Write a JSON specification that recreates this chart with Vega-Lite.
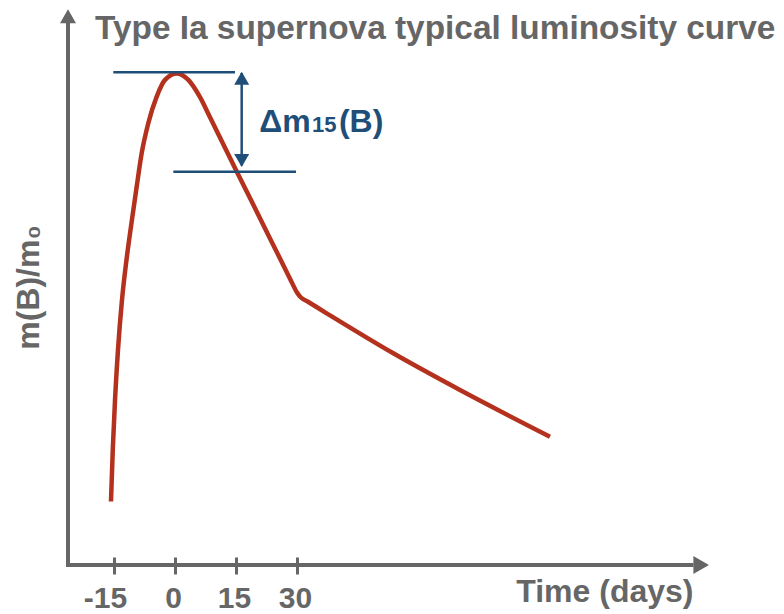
{
  "$schema": "https://vega.github.io/schema/vega-lite/v6.json",
  "width": 700,
  "height": 565,
  "autosize": {"type": "none"},
  "padding": {"left": 68, "top": 0, "right": 16, "bottom": 49},
  "background": "white",
  "config": {"view": {"stroke": null}, "font": "Liberation Sans"},
  "title": {
    "text": "Type Ia supernova typical luminosity curve",
    "orient": "top",
    "anchor": "start",
    "frame": "group",
    "offset": -72,
    "baseline": "alphabetic",
    "dx": 27,
    "font": "Liberation Sans",
    "fontSize": 33.4,
    "fontWeight": "bold",
    "color": "#666666"
  },
  "datasets": {
    "curve": [
      {"day": -15.74, "lum": 0.129},
      {"day": -15.3, "lum": 0.234},
      {"day": -14.75, "lum": 0.335},
      {"day": -14.02, "lum": 0.437},
      {"day": -13.03, "lum": 0.539},
      {"day": -11.93, "lum": 0.62},
      {"day": -10.82, "lum": 0.688},
      {"day": -9.42, "lum": 0.769},
      {"day": -8.19, "lum": 0.837},
      {"day": -6.57, "lum": 0.898},
      {"day": -4.5, "lum": 0.952},
      {"day": -2.46, "lum": 0.986},
      {"day": 0.42, "lum": 0.999},
      {"day": 3.27, "lum": 0.986},
      {"day": 6.15, "lum": 0.951},
      {"day": 8.61, "lum": 0.91},
      {"day": 15.17, "lum": 0.8},
      {"day": 20.9, "lum": 0.705},
      {"day": 28.28, "lum": 0.582},
      {"day": 30.0, "lum": 0.554},
      {"day": 30.98, "lum": 0.5437},
      {"day": 32.7, "lum": 0.535},
      {"day": 37.3, "lum": 0.5116},
      {"day": 53.68, "lum": 0.4303},
      {"day": 70.08, "lum": 0.3557},
      {"day": 92.21, "lum": 0.2608}
    ],
    "axisLines": [
      {"day": -26.8, "day2": 127.5, "lum": 0, "lum2": 0},
      {"day": -26.31, "day2": -26.31, "lum": -0.004, "lum2": 1.105}
    ],
    "xArrow": [{"day": 131.3, "lum": 0}],
    "yArrow": [{"day": -26.31, "lum": 1.1295}],
    "levels": [
      {"day": -15.17, "day2": 14.75, "lum": 1.0014},
      {"day": -0.41, "day2": 29.75, "lum": 0.7994}
    ],
    "span": [{"day": 16.4, "lum": 1.0, "lum2": 0.812}],
    "spanTop": [{"day": 16.4, "lum": 1.0026}],
    "spanBottom": [{"day": 16.4, "lum": 0.809}],
    "labelMain": [
      {"day": 20.73, "lum": 0.881, "text": "Δm"},
      {"day": 40.32, "lum": 0.881, "text": "(B)"}
    ],
    "labelSub": [{"day": 33.69, "lum": 0.881, "text": "15"}]
  },
  "encoding": {
    "x": {
      "field": "day",
      "type": "quantitative",
      "scale": {"domain": [-26.31, 145.82], "nice": false, "zero": false},
      "axis": {
        "values": [-15, 0, 15, 30],
        "labelExpr": "'' + datum.value",
        "domain": false,
        "grid": false,
        "offset": -8,
        "tickSize": 17,
        "tickWidth": 3,
        "tickColor": "#666666",
        "labelFont": "Liberation Sans",
        "labelFontSize": 30,
        "labelFontWeight": "bold",
        "labelColor": "#666666",
        "labelPadding": 9,
        "labelFlush": false,
        "labelOverlap": false,
        "labelOffset": {"condition": {"test": "datum.value == -15", "value": -9}, "value": -2},
        "title": "Time (days)",
        "titleFont": "Liberation Sans",
        "titleFontSize": 32,
        "titleFontWeight": "bold",
        "titleColor": "#666666",
        "titleAlign": "right",
        "titleBaseline": "alphabetic",
        "titleX": 625,
        "titleY": 44
      }
    },
    "y": {
      "field": "lum",
      "type": "quantitative",
      "scale": {"domain": [0, 1.14837], "nice": false, "zero": false},
      "axis": {
        "title": "m(B)/m₀",
        "labels": false,
        "ticks": false,
        "domain": false,
        "grid": false,
        "titleFont": "Liberation Sans",
        "titleFontSize": 32,
        "titleFontWeight": "bold",
        "titleColor": "#666666",
        "titleAngle": 270,
        "titleAlign": "center",
        "titleBaseline": "middle",
        "titleX": -40,
        "titleY": 287
      }
    }
  },
  "layer": [
    {
      "data": {"name": "axisLines"},
      "mark": {"type": "rule", "color": "#666666", "strokeWidth": 4},
      "encoding": {
        "x2": {"field": "day2"},
        "y2": {"field": "lum2"}
      }
    },
    {
      "data": {"name": "xArrow"},
      "mark": {"type": "point", "shape": "triangle-right", "filled": true, "color": "#666666", "opacity": 1, "size": 324, "xOffset": -7.8}
    },
    {
      "data": {"name": "yArrow"},
      "mark": {"type": "point", "shape": "triangle-up", "filled": true, "color": "#666666", "opacity": 1, "size": 256, "yOffset": 7}
    },
    {
      "data": {"name": "curve"},
      "mark": {"type": "line", "color": "#b3311d", "strokeWidth": 4.5, "interpolate": "monotone", "strokeCap": "butt"}
    },
    {
      "data": {"name": "levels"},
      "mark": {"type": "rule", "color": "#1f4e79", "strokeWidth": 2.5},
      "encoding": {
        "x2": {"field": "day2"}
      }
    },
    {
      "data": {"name": "span"},
      "mark": {"type": "rule", "color": "#1f4e79", "strokeWidth": 2.5},
      "encoding": {
        "y2": {"field": "lum2"}
      }
    },
    {
      "data": {"name": "spanTop"},
      "mark": {"type": "point", "shape": "triangle-up", "filled": true, "color": "#1f4e79", "opacity": 1, "size": 225, "yOffset": 6.5}
    },
    {
      "data": {"name": "spanBottom"},
      "mark": {"type": "point", "shape": "triangle-down", "filled": true, "color": "#1f4e79", "opacity": 1, "size": 225, "yOffset": -6.5}
    },
    {
      "data": {"name": "labelMain"},
      "mark": {"type": "text", "align": "left", "baseline": "alphabetic", "font": "Liberation Sans", "fontSize": 32, "fontWeight": "bold", "color": "#1f4e79"},
      "encoding": {
        "text": {"field": "text"}
      }
    },
    {
      "data": {"name": "labelSub"},
      "mark": {"type": "text", "align": "left", "baseline": "alphabetic", "font": "Liberation Sans", "fontSize": 22, "fontWeight": "bold", "color": "#1f4e79"},
      "encoding": {
        "text": {"field": "text"}
      }
    }
  ]
}
